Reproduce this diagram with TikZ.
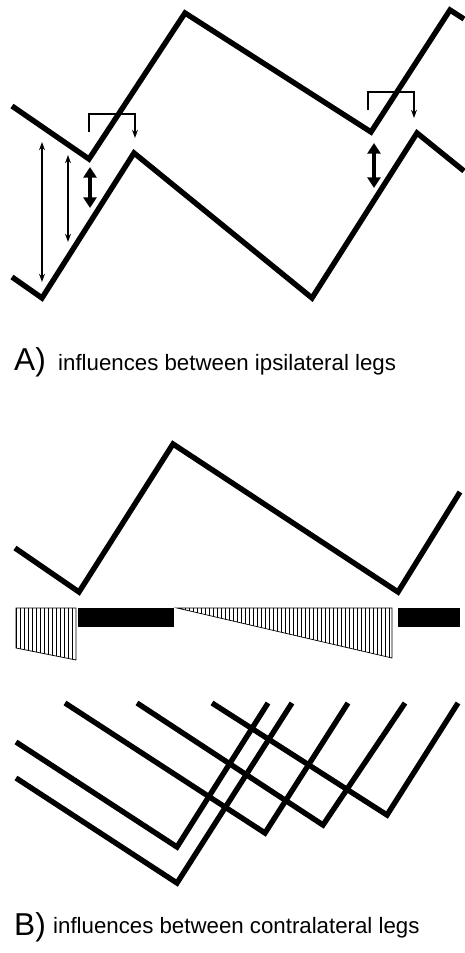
\documentclass[tikz,border=0pt]{standalone}
\usepackage{fontspec}
\setmainfont{Liberation Sans}
\usetikzlibrary{arrows.meta}

\tikzset{
  leg/.style={line width=4.6pt, line join=miter},
  thinarrow/.style={line width=1.4pt, {Stealth[length=7pt,width=5pt]}-{Stealth[length=7pt,width=5pt]}},
  thickarrow/.style={line width=3.6pt, {Triangle[length=9pt,width=11pt]}-{Triangle[length=9pt,width=11pt]}},
  bracket/.style={line width=1.7pt, -{Stealth[length=7pt,width=5pt]}},
  hatch/.style={line width=0.6pt},
  caption/.style={anchor=base west, inner sep=0pt, font=\fontsize{19}{22}\selectfont},
  panel/.style={anchor=base west, inner sep=0pt, font=\fontsize{27}{30}\selectfont}
}

\begin{document}
\begin{tikzpicture}[x=0.03cm, y=-0.03cm]
    \useasboundingbox (0,0) rectangle (464,953);

    % A) ipsilateral legs
    \draw[leg] (12,106) -- (89,159) -- (185,13) -- (371,132) -- (450,10) -- (464,19);
    \draw[leg] (12,277) -- (42,298) -- (134,153) -- (312,298) -- (417,133) -- (464,171);

    \draw[thinarrow] (42,142) -- (42,282);
    \draw[thinarrow] (68,155) -- (68,242);
    \draw[thickarrow] (90,167) -- (90,208);
    \draw[thickarrow] (374,143) -- (374,188);

    \draw[bracket] (89,132) -- (89,114) -- (135,114) -- (135,138);
    \draw[bracket] (368,110) -- (368,92) -- (414,92) -- (414,118);

    \node[panel] (labA) at (14,370) {A)};
    \node[caption] (txtA) at (58,370) {influences between ipsilateral legs};

    % B) contralateral legs
    \draw[leg] (15,548) -- (79,592) -- (173,444) -- (398,592) -- (460,492);

    \fill (78,608) rectangle (174,627);
    \fill (398,608) rectangle (460,627);

    \begin{scope}
        \clip (16,608) -- (76,608) -- (76,660) -- (16,648) -- cycle;
        \foreach \x in {16,20,...,76}
            \draw[hatch] (\x,600) -- (\x,665);
    \end{scope}
    \draw[hatch] (16,608) -- (76,608) -- (76,660) -- (16,648) -- cycle;

    \begin{scope}
        \clip (177,608) -- (392,608) -- (392,658) -- cycle;
        \foreach \x in {177,181,...,392}
            \draw[hatch] (\x,600) -- (\x,665);
    \end{scope}
    \draw[hatch] (177,608) -- (392,608) -- (392,658) -- cycle;

    \draw[leg] (16,742) -- (177,847) -- (268,703);
    \draw[leg] (16,778) -- (177,883) -- (292,703);
    \draw[leg] (65,703) -- (265,833) -- (348,703);
    \draw[leg] (137,703) -- (323,825) -- (405,703);
    \draw[leg] (212,703) -- (387,815) -- (458,703);

    \node[panel] (labB) at (14,935) {B)};
    \node[caption] (txtB) at (53,933) {influences between contralateral legs};
\end{tikzpicture}
\end{document}
